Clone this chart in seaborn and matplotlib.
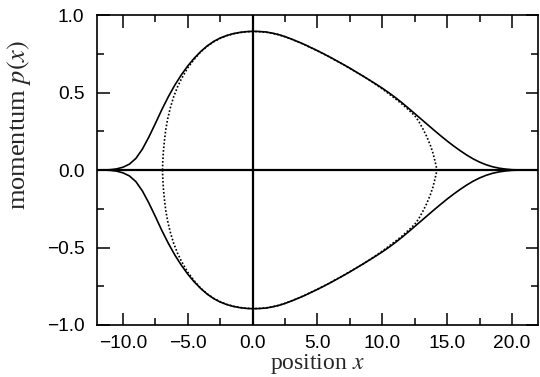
import numpy as np
import pandas as pd
import matplotlib
matplotlib.use("Agg")
import matplotlib.pyplot as plt
from matplotlib.ticker import MultipleLocator, FuncFormatter
import seaborn as sns

# solid curve, upper and lower branch
solid_x = [-11.5, -11.0, -10.5, -10.0, -9.5, -9.0, -8.5, -8.0, -7.5, -7.0, -6.5, -6.0,
           -5.5, -5.0, -4.5, -4.0, -3.5, -3.0, -2.5, -2.0, -1.5, -1.0, -0.5, 0.0,
           0.5, 1.0, 1.5, 2.0, 2.5, 3.0, 3.5, 4.0, 4.5, 5.0, 5.5, 6.0, 6.5, 7.0,
           7.5, 8.0, 8.5, 9.0, 9.5, 10.0, 10.5, 11.0, 11.5, 12.0, 12.5, 13.0, 13.5,
           14.0, 14.5, 15.0, 15.5, 16.0, 16.5, 17.0, 17.5, 18.0, 18.5, 19.0, 19.5,
           20.0, 20.7]
solid_up = [0.0, 0.002, 0.007, 0.018, 0.038, 0.075, 0.135, 0.213, 0.30, 0.39, 0.473, 0.548,
            0.614, 0.672, 0.722, 0.765, 0.801, 0.83, 0.852, 0.868, 0.88, 0.888, 0.893, 0.895,
            0.894, 0.891, 0.884, 0.874, 0.861, 0.845, 0.828, 0.81, 0.79, 0.77, 0.749,
            0.727, 0.704, 0.681, 0.657, 0.632, 0.607, 0.581, 0.555, 0.528, 0.499, 0.468,
            0.435, 0.40, 0.364, 0.328, 0.292, 0.256, 0.221, 0.187, 0.155, 0.125, 0.097,
            0.072, 0.051, 0.034, 0.021, 0.012, 0.006, 0.002, 0.0]
solid_lo = [0.0, -0.002, -0.007, -0.018, -0.038, -0.075, -0.135, -0.213, -0.30, -0.39, -0.473, -0.548,
            -0.614, -0.672, -0.722, -0.765, -0.801, -0.83, -0.852, -0.868, -0.88, -0.888, -0.893, -0.895,
            -0.894, -0.891, -0.884, -0.874, -0.861, -0.845, -0.828, -0.81, -0.79, -0.77, -0.749,
            -0.727, -0.704, -0.681, -0.657, -0.632, -0.607, -0.581, -0.555, -0.528, -0.499, -0.468,
            -0.435, -0.40, -0.364, -0.328, -0.292, -0.256, -0.221, -0.187, -0.155, -0.125, -0.097,
            -0.072, -0.051, -0.034, -0.021, -0.012, -0.006, -0.002, 0.0]

# dotted curve, upper and lower branch
dot_x = [-6.95, -6.93, -6.88, -6.8, -6.7, -6.55, -6.35, -6.1, -5.8, -5.5, -5.0, -4.5,
         -4.0, -3.5, -3.0, -2.5, -2.0, -1.5, -1.0, -0.5, 0.0, 0.5, 1.0, 1.5, 2.0,
         2.5, 3.0, 3.5, 4.0, 4.5, 5.0, 5.5, 6.0, 6.5, 7.0, 7.5, 8.0, 8.5, 9.0,
         9.5, 10.0, 10.5, 11.0, 11.5, 12.0, 12.5, 12.8, 13.1, 13.4, 13.7, 13.9,
         14.05, 14.15, 14.2]
dot_up = [0.0, 0.05, 0.12, 0.19, 0.26, 0.33, 0.40, 0.47, 0.535, 0.587, 0.66, 0.715,
          0.763, 0.799, 0.828, 0.85, 0.867, 0.879, 0.887, 0.892, 0.895, 0.893, 0.89,
          0.883, 0.873, 0.86, 0.844, 0.827, 0.809, 0.789, 0.769, 0.748, 0.726, 0.703,
          0.68, 0.656, 0.631, 0.606, 0.58, 0.552, 0.523, 0.492, 0.46, 0.427, 0.39,
          0.35, 0.315, 0.27, 0.22, 0.16, 0.11, 0.06, 0.025, 0.0]
dot_lo = [0.0, -0.05, -0.12, -0.19, -0.26, -0.33, -0.40, -0.47, -0.535, -0.587, -0.66, -0.715,
          -0.763, -0.799, -0.828, -0.85, -0.867, -0.879, -0.887, -0.892, -0.895, -0.893, -0.89,
          -0.883, -0.873, -0.86, -0.844, -0.827, -0.809, -0.789, -0.769, -0.748, -0.726, -0.703,
          -0.68, -0.656, -0.631, -0.606, -0.58, -0.552, -0.523, -0.492, -0.46, -0.427, -0.39,
          -0.35, -0.315, -0.27, -0.22, -0.16, -0.11, -0.06, -0.025, 0.0]

x_ticks = [-10.0, -5.0, 0.0, 5.0, 10.0, 15.0, 20.0]
y_ticks = [-1.0, -0.5, 0.0, 0.5, 1.0]


def make_frame():
    parts = []
    for name, xs, up, lo in [("solid", solid_x, solid_up, solid_lo),
                             ("dotted", dot_x, dot_up, dot_lo)]:
        parts.append(pd.DataFrame({"x": xs, "p": up, "curve": name, "branch": name + "_up"}))
        parts.append(pd.DataFrame({"x": xs, "p": lo, "curve": name, "branch": name + "_lo"}))
    return pd.concat(parts, ignore_index=True)


def fmt(v, pos):
    return f"{v:.1f}".replace("-", "\u2212")


df = make_frame()

sns.set_style("ticks")
plt.rcParams["font.family"] = ["Liberation Sans", "DejaVu Sans"]
plt.rcParams["mathtext.fontset"] = "stix"

fig = plt.figure(figsize=(5.4, 3.77), dpi=100)
ax = fig.add_axes([0.1796, 0.138, 0.8167, 0.822])

ax.axhline(0, color="black", lw=1.6, zorder=1)
ax.axvline(0, color="black", lw=1.6, zorder=1)

sns.lineplot(data=df, x="x", y="p", style="curve", units="branch", estimator=None,
             color="black", dashes={"solid": "", "dotted": (1.0, 1.2)},
             linewidth=1.2, legend=False, ax=ax)

ax.set_xlim(-12, 22)
ax.set_ylim(-1, 1)
ax.set_xticks(x_ticks)
ax.set_yticks(y_ticks)
ax.xaxis.set_minor_locator(MultipleLocator(2.5))
ax.yaxis.set_minor_locator(MultipleLocator(0.25))
ax.xaxis.set_major_formatter(FuncFormatter(fmt))
ax.yaxis.set_major_formatter(FuncFormatter(fmt))
ax.tick_params(which="both", direction="in", top=True, right=True, width=1.1,
               labelsize=13.8, colors="black")
ax.tick_params(which="major", length=9)
ax.tick_params(which="minor", length=5)
ax.tick_params(axis="x", which="major", pad=7.5)
ax.tick_params(axis="y", which="major", pad=9)
for s in ax.spines.values():
    s.set_linewidth(1.2)
    s.set_color("black")

ax.set_xlabel("position $x$", fontsize=17, family="Liberation Serif", labelpad=0)
ax.set_ylabel("momentum $p(x)$", fontsize=19, family="Liberation Serif")
ax.yaxis.set_label_coords(-0.145, 0.645)

fig.savefig("out.png", dpi=100)
